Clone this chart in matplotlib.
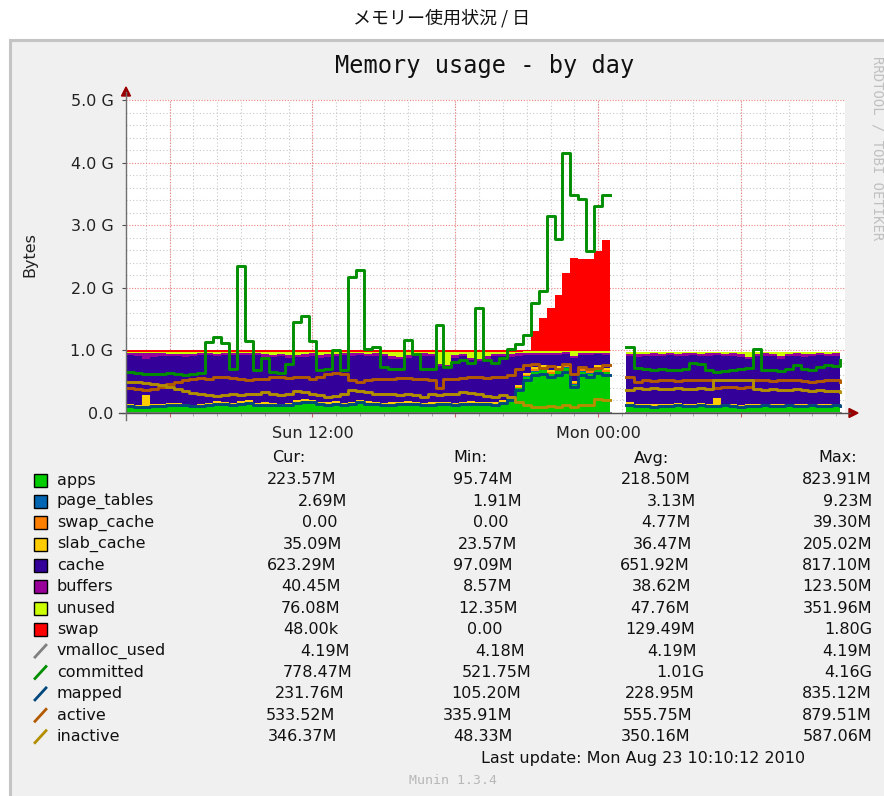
import numpy as np
import matplotlib
matplotlib.use('Agg')
import matplotlib.pyplot as plt
from matplotlib.patches import Rectangle, Polygon

nan = np.nan

# samples every 20 minutes from Sun 04:10, values in GB
apps = [0.10, 0.09, 0.09, 0.10, 0.11, 0.12, 0.12, 0.11, 0.10, 0.11,
        0.12, 0.14, 0.13, 0.12, 0.15, 0.16, 0.12, 0.13, 0.12, 0.11,
        0.12, 0.16, 0.18, 0.17, 0.14, 0.13, 0.15, 0.12, 0.14, 0.17,
        0.15, 0.13, 0.12, 0.13, 0.14, 0.15, 0.13, 0.12, 0.13, 0.14,
        0.13, 0.12, 0.14, 0.15, 0.13, 0.14, 0.13, 0.16, 0.22, 0.40,
        0.58, 0.66, 0.70, 0.62, 0.68, 0.72, 0.45, 0.66, 0.63, 0.70,
        0.65, 0.65, nan, 0.12, 0.10, 0.10, 0.09, 0.10, 0.10, 0.11,
        0.10, 0.10, 0.11, 0.10, 0.10, 0.11, 0.10, 0.09, 0.10, 0.10,
        0.11, 0.10, 0.10, 0.11, 0.10, 0.10, 0.11, 0.10, 0.10, 0.11,
        0.10]
page_tables = [0.003, 0.003, 0.003, 0.003, 0.002, 0.003, 0.003, 0.003, 0.003, 0.003,
               0.003, 0.004, 0.003, 0.003, 0.004, 0.004, 0.003, 0.003, 0.003, 0.003,
               0.003, 0.004, 0.004, 0.004, 0.003, 0.003, 0.003, 0.003, 0.003, 0.004,
               0.003, 0.003, 0.003, 0.003, 0.003, 0.003, 0.003, 0.003, 0.003, 0.003,
               0.003, 0.003, 0.003, 0.003, 0.003, 0.003, 0.003, 0.003, 0.004, 0.005,
               0.006, 0.007, 0.007, 0.006, 0.007, 0.008, 0.006, 0.007, 0.007, 0.008,
               0.007, 0.007, nan, 0.003, 0.003, 0.003, 0.003, 0.003, 0.003, 0.003,
               0.003, 0.003, 0.003, 0.003, 0.003, 0.003, 0.003, 0.003, 0.003, 0.003,
               0.003, 0.003, 0.003, 0.003, 0.003, 0.003, 0.003, 0.003, 0.003, 0.003,
               0.003]
swap_cache = [0.002, 0.002, 0.002, 0.002, 0.002, 0.002, 0.002, 0.002, 0.002, 0.002,
              0.002, 0.002, 0.002, 0.002, 0.002, 0.002, 0.002, 0.002, 0.002, 0.002,
              0.002, 0.002, 0.002, 0.002, 0.002, 0.002, 0.002, 0.002, 0.002, 0.002,
              0.002, 0.002, 0.002, 0.002, 0.002, 0.002, 0.002, 0.002, 0.002, 0.002,
              0.002, 0.002, 0.002, 0.002, 0.002, 0.002, 0.002, 0.002, 0.005, 0.015,
              0.020, 0.030, 0.030, 0.030, 0.030, 0.030, 0.030, 0.030, 0.030, 0.030,
              0.030, 0.030, nan, 0.010, 0.010, 0.010, 0.008, 0.008, 0.006, 0.006,
              0.005, 0.005, 0.004, 0.004, 0.003, 0.003, 0.002, 0.002, 0.002, 0.001,
              0.001, 0.001, 0.000, 0.000, 0.000, 0.000, 0.000, 0.000, 0.000, 0.000,
              0.000]
slab_cache = [0.035, 0.040, 0.190, 0.035, 0.035, 0.030, 0.035, 0.035, 0.030, 0.035,
              0.035, 0.040, 0.035, 0.035, 0.035, 0.035, 0.035, 0.035, 0.030, 0.035,
              0.035, 0.035, 0.035, 0.035, 0.035, 0.035, 0.035, 0.035, 0.035, 0.035,
              0.035, 0.035, 0.035, 0.035, 0.035, 0.035, 0.035, 0.035, 0.035, 0.035,
              0.035, 0.035, 0.035, 0.035, 0.035, 0.035, 0.035, 0.035, 0.035, 0.035,
              0.035, 0.030, 0.030, 0.030, 0.030, 0.030, 0.030, 0.030, 0.030, 0.030,
              0.030, 0.030, nan, 0.035, 0.035, 0.035, 0.035, 0.035, 0.035, 0.035,
              0.035, 0.035, 0.035, 0.035, 0.130, 0.035, 0.035, 0.035, 0.035, 0.035,
              0.035, 0.035, 0.035, 0.035, 0.035, 0.035, 0.035, 0.035, 0.035, 0.035,
              0.035]
cache = [0.785, 0.780, 0.580, 0.760, 0.765, 0.750, 0.750, 0.750, 0.770, 0.770,
         0.770, 0.720, 0.750, 0.770, 0.730, 0.730, 0.760, 0.725, 0.740, 0.760,
         0.725, 0.690, 0.675, 0.705, 0.705, 0.730, 0.725, 0.760, 0.735, 0.715,
         0.720, 0.745, 0.745, 0.700, 0.680, 0.695, 0.740, 0.755, 0.735, 0.570,
         0.560, 0.720, 0.735, 0.650, 0.660, 0.690, 0.735, 0.710, 0.637, 0.462,
         0.282, 0.207, 0.167, 0.242, 0.187, 0.152, 0.357, 0.207, 0.232, 0.167,
         0.217, 0.217, nan, 0.742, 0.752, 0.762, 0.779, 0.759, 0.776, 0.756,
         0.772, 0.777, 0.758, 0.773, 0.684, 0.759, 0.775, 0.770, 0.720, 0.771,
         0.766, 0.771, 0.732, 0.757, 0.777, 0.762, 0.762, 0.782, 0.767, 0.767,
         0.727]
buffers = [0.040, 0.045, 0.100, 0.060, 0.040, 0.035, 0.040, 0.035, 0.040, 0.040,
           0.035, 0.040, 0.040, 0.035, 0.040, 0.035, 0.040, 0.040, 0.035, 0.040,
           0.035, 0.040, 0.040, 0.035, 0.040, 0.040, 0.035, 0.040, 0.040, 0.035,
           0.040, 0.040, 0.035, 0.040, 0.040, 0.035, 0.040, 0.040, 0.035, 0.040,
           0.040, 0.040, 0.035, 0.040, 0.040, 0.040, 0.035, 0.040, 0.040, 0.035,
           0.035, 0.030, 0.030, 0.030, 0.030, 0.030, 0.030, 0.030, 0.030, 0.030,
           0.030, 0.030, nan, 0.040, 0.040, 0.040, 0.040, 0.040, 0.040, 0.040,
           0.040, 0.040, 0.040, 0.040, 0.040, 0.040, 0.040, 0.040, 0.040, 0.040,
           0.040, 0.040, 0.040, 0.040, 0.040, 0.040, 0.040, 0.040, 0.040, 0.040,
           0.040]
unused = [0.015, 0.020, 0.015, 0.020, 0.025, 0.040, 0.030, 0.045, 0.035, 0.020,
          0.015, 0.035, 0.020, 0.015, 0.020, 0.015, 0.020, 0.045, 0.050, 0.030,
          0.060, 0.050, 0.045, 0.030, 0.055, 0.040, 0.030, 0.020, 0.025, 0.020,
          0.030, 0.025, 0.040, 0.070, 0.080, 0.060, 0.030, 0.025, 0.040, 0.190,
          0.210, 0.060, 0.030, 0.100, 0.110, 0.070, 0.040, 0.030, 0.040, 0.030,
          0.025, 0.020, 0.020, 0.025, 0.020, 0.015, 0.080, 0.020, 0.025, 0.020,
          0.020, 0.020, nan, 0.030, 0.040, 0.030, 0.025, 0.035, 0.020, 0.030,
          0.025, 0.020, 0.030, 0.025, 0.020, 0.030, 0.025, 0.040, 0.080, 0.030,
          0.025, 0.030, 0.070, 0.035, 0.025, 0.040, 0.030, 0.020, 0.035, 0.025,
          0.075]
swap = [0.025, 0.025, 0.025, 0.025, 0.025, 0.025, 0.025, 0.025, 0.025, 0.025,
        0.025, 0.025, 0.025, 0.025, 0.025, 0.025, 0.025, 0.025, 0.025, 0.025,
        0.025, 0.025, 0.025, 0.025, 0.025, 0.025, 0.025, 0.025, 0.025, 0.025,
        0.025, 0.025, 0.025, 0.025, 0.025, 0.025, 0.025, 0.025, 0.025, 0.025,
        0.025, 0.025, 0.025, 0.025, 0.025, 0.025, 0.025, 0.025, 0.025, 0.025,
        0.025, 0.320, 0.540, 0.700, 0.900, 1.250, 1.490, 1.470, 1.470, 1.600,
        1.780, 1.780, nan, 0.000, 0.000, 0.000, 0.000, 0.000, 0.000, 0.000,
        0.000, 0.000, 0.000, 0.000, 0.000, 0.000, 0.000, 0.000, 0.000, 0.000,
        0.000, 0.000, 0.000, 0.000, 0.000, 0.000, 0.000, 0.000, 0.000, 0.000,
        0.000]
vmalloc_used = [0.004, 0.004, 0.004, 0.004, 0.004, 0.004, 0.004, 0.004, 0.004, 0.004,
                0.004, 0.004, 0.004, 0.004, 0.004, 0.004, 0.004, 0.004, 0.004, 0.004,
                0.004, 0.004, 0.004, 0.004, 0.004, 0.004, 0.004, 0.004, 0.004, 0.004,
                0.004, 0.004, 0.004, 0.004, 0.004, 0.004, 0.004, 0.004, 0.004, 0.004,
                0.004, 0.004, 0.004, 0.004, 0.004, 0.004, 0.004, 0.004, 0.004, 0.004,
                0.004, 0.004, 0.004, 0.004, 0.004, 0.004, 0.004, 0.004, 0.004, 0.004,
                0.004, nan, nan, 0.004, 0.004, 0.004, 0.004, 0.004, 0.004, 0.004,
                0.004, 0.004, 0.004, 0.004, 0.004, 0.004, 0.004, 0.004, 0.004, 0.004,
                0.004, 0.004, 0.004, 0.004, 0.004, 0.004, 0.004, 0.004, 0.004, 0.004,
                0.004]
committed = [0.65, 0.64, 0.63, 0.62, 0.63, 0.64, 0.62, 0.60, 0.62, 0.64,
             1.13, 1.21, 1.12, 0.70, 2.35, 1.15, 0.68, 0.88, 0.66, 0.64,
             0.78, 1.45, 1.55, 1.15, 0.68, 0.70, 1.00, 0.68, 2.17, 2.28,
             1.02, 1.06, 0.73, 0.70, 0.71, 1.17, 0.95, 0.70, 0.70, 1.40,
             0.73, 0.82, 0.84, 0.80, 1.68, 0.85, 0.80, 0.88, 1.02, 1.10,
             1.25, 1.75, 1.95, 3.15, 2.78, 4.15, 3.48, 3.42, 2.58, 3.30,
             3.48, nan, nan, 1.06, 0.72, 0.70, 0.69, 0.70, 0.68, 0.69,
             0.70, 0.80, 0.78, 0.68, 0.66, 0.67, 0.68, 0.70, 0.72, 1.02,
             0.69, 0.68, 0.67, 0.70, 0.76, 0.70, 0.69, 0.74, 0.76, 0.75,
             0.84]
mapped = [0.11, 0.10, 0.10, 0.11, 0.11, 0.12, 0.13, 0.12, 0.11, 0.11,
          0.12, 0.14, 0.14, 0.12, 0.15, 0.16, 0.13, 0.13, 0.12, 0.12,
          0.13, 0.16, 0.18, 0.17, 0.15, 0.13, 0.15, 0.13, 0.14, 0.17,
          0.15, 0.14, 0.13, 0.13, 0.14, 0.15, 0.14, 0.12, 0.13, 0.15,
          0.14, 0.13, 0.14, 0.15, 0.14, 0.14, 0.13, 0.16, 0.21, 0.36,
          0.52, 0.60, 0.63, 0.57, 0.61, 0.66, 0.42, 0.60, 0.57, 0.64,
          0.60, nan, nan, 0.13, 0.11, 0.11, 0.10, 0.11, 0.11, 0.12,
          0.11, 0.11, 0.12, 0.11, 0.11, 0.12, 0.11, 0.10, 0.11, 0.11,
          0.12, 0.11, 0.11, 0.12, 0.11, 0.11, 0.12, 0.11, 0.11, 0.12,
          0.11]
active = [0.40, 0.38, 0.37, 0.38, 0.42, 0.46, 0.50, 0.52, 0.55, 0.56,
          0.55, 0.57, 0.58, 0.56, 0.55, 0.53, 0.54, 0.55, 0.57, 0.58,
          0.56, 0.58, 0.57, 0.54, 0.58, 0.62, 0.64, 0.62, 0.52, 0.50,
          0.52, 0.54, 0.54, 0.55, 0.56, 0.56, 0.55, 0.54, 0.53, 0.40,
          0.54, 0.55, 0.56, 0.57, 0.58, 0.56, 0.57, 0.58, 0.60, 0.70,
          0.76, 0.78, 0.72, 0.75, 0.70, 0.78, 0.62, 0.74, 0.70, 0.72,
          0.76, nan, nan, 0.58, 0.50, 0.52, 0.51, 0.52, 0.52, 0.51,
          0.52, 0.52, 0.53, 0.52, 0.40, 0.41, 0.42, 0.40, 0.41, 0.52,
          0.52, 0.51, 0.52, 0.53, 0.52, 0.51, 0.50, 0.51, 0.52, 0.52,
          0.50]
inactive = [0.50, 0.49, 0.48, 0.46, 0.44, 0.42, 0.38, 0.35, 0.32, 0.30,
            0.28, 0.27, 0.29, 0.30, 0.28, 0.30, 0.31, 0.33, 0.30, 0.29,
            0.31, 0.35, 0.33, 0.30, 0.28, 0.26, 0.27, 0.30, 0.37, 0.35,
            0.33, 0.31, 0.30, 0.31, 0.29, 0.30, 0.28, 0.26, 0.30, 0.29,
            0.31, 0.30, 0.34, 0.32, 0.30, 0.27, 0.26, 0.28, 0.26, 0.18,
            0.12, 0.10, 0.09, 0.11, 0.10, 0.12, 0.10, 0.13, 0.12, 0.22,
            0.20, nan, nan, 0.36, 0.40, 0.39, 0.40, 0.38, 0.39, 0.40,
            0.38, 0.39, 0.40, 0.38, 0.52, 0.53, 0.52, 0.53, 0.52, 0.38,
            0.37, 0.38, 0.36, 0.37, 0.38, 0.36, 0.35, 0.36, 0.35, 0.35,
            0.34]

names = ['apps', 'page_tables', 'swap_cache', 'slab_cache', 'cache', 'buffers',
         'unused', 'swap', 'vmalloc_used', 'committed', 'mapped', 'active', 'inactive']
cur_txt = ['223.57M', '2.69M', '0.00', '35.09M', '623.29M', '40.45M', '76.08M',
           '48.00k', '4.19M', '778.47M', '231.76M', '533.52M', '346.37M']
min_txt = ['95.74M', '1.91M', '0.00', '23.57M', '97.09M', '8.57M', '12.35M',
           '0.00', '4.18M', '521.75M', '105.20M', '335.91M', '48.33M']
avg_txt = ['218.50M', '3.13M', '4.77M', '36.47M', '651.92M', '38.62M', '47.76M',
           '129.49M', '4.19M', '1.01G', '228.95M', '555.75M', '350.16M']
max_txt = ['823.91M', '9.23M', '39.30M', '205.02M', '817.10M', '123.50M', '351.96M',
           '1.80G', '4.19M', '4.16G', '835.12M', '879.51M', '587.06M']

area_series = [apps, page_tables, swap_cache, slab_cache, cache, buffers, unused, swap]
line_series = [vmalloc_used, committed, mapped, active, inactive]
colors = ['#00CC00', '#0066B3', '#FF8000', '#FFCC00', '#330099', '#990099', '#CCFF00',
          '#FF0000', '#808080', '#008F00', '#00487D', '#B35A00', '#B38F00']

# legend column x positions (pixels)
cur_x = [267, 298, 302, 283, 267, 281, 281, 283, 300, 283, 275, 266, 268]
min_x = [453, 472, 473, 458, 453, 463, 458, 467, 475, 462, 451, 443, 453]
avg_x = [621, 647, 641, 633, 620, 632, 630, 625, 647, 656, 625, 623, 621]
max_right = 872

plt.rcParams['font.family'] = 'DejaVu Sans'
W, H = 884, 796
fig = plt.figure(figsize=(W / 100, H / 100), dpi=100)
fig.patch.set_facecolor('white')

bg = fig.add_axes([0, 0, 1, 1], zorder=0)
bg.set_xlim(0, W)
bg.set_ylim(H, 0)
bg.axis('off')
bg.add_patch(Rectangle((9.5, 40), W, H, facecolor='#F0F0F0', edgecolor='#C4C4C4', lw=2.2))

ax = fig.add_axes([126 / W, 1 - 413 / H, (845 - 126) / W, 313 / H], zorder=1)
ax.set_facecolor('white')
for s in ax.spines.values():
    s.set_visible(False)

t = np.arange(len(apps)) / 3.0
t0 = 4 + 10 / 60.0  # Sun 04:10
hours = np.arange(5, 35) - t0
majors = hours[(np.arange(5, 35) % 6) == 0]

ax.vlines(hours, 0, 5.0, colors='#C8C8C8', linestyles=(0, (1, 2)), lw=0.8, zorder=0)
ax.vlines(majors, 0, 5.0, colors='#F08080', linestyles=(0, (1, 1.5)), lw=0.8, zorder=0.5)
minor_y = [v / 5 for v in range(1, 26) if v % 5 != 0]
ax.hlines(minor_y, 0, 30.2, colors='#C8C8C8', linestyles=(0, (1, 2)), lw=0.8, zorder=0)
ax.hlines([1, 2, 3, 4, 5], 0, 30.2, colors='#F08080', linestyles=(0, (1, 1.5)), lw=0.8,
          zorder=0.5, clip_on=False)

base = np.zeros(len(t))
for vals, c in zip(area_series, colors[:8]):
    top = base + np.array(vals, dtype=float)
    ax.fill_between(t, base, top, step='post', color=c, lw=0, antialiased=False, zorder=2)
    base = top

for vals, c in zip(line_series, colors[8:]):
    ax.plot(t, vals, drawstyle='steps-post', color=c, lw=2.1, zorder=3)

ax.set_xlim(0, 30.2)
ax.set_ylim(0, 5.0)
ax.set_yticks([0, 1, 2, 3, 4, 5])
ax.set_yticklabels(['0.0', '1.0 G', '2.0 G', '3.0 G', '4.0 G', '5.0 G'])
ax.set_xticks(majors)
ax.set_xticklabels(['', 'Sun 12:00', '', 'Mon 00:00', ''])
ax.set_xticks(hours, minor=True)
ax.tick_params(axis='y', length=3, color='#505050', labelsize=11.5, pad=6, labelcolor='#222222')
ax.tick_params(axis='x', which='major', length=3, color='#D06060', labelsize=11.5, pad=6,
               labelcolor='#222222')
ax.tick_params(axis='x', which='minor', length=2, color='#A0A0A0')

fg = fig.add_axes([0, 0, 1, 1], zorder=2)
fg.set_xlim(0, W)
fg.set_ylim(H, 0)
fg.axis('off')
fg.patch.set_alpha(0)

fg.plot([119, 850], [413, 413], color='#505050', lw=1)
fg.plot([126, 126], [420, 92], color='#707070', lw=1)
fg.add_patch(Polygon([(121.5, 96), (130.5, 96), (126, 87)], closed=True, color='#990000'))
fg.add_patch(Polygon([(849, 408.5), (849, 417.5), (858, 413)], closed=True, color='#990000'))

fg.text(442, 18, 'メモリー使用状況 / 日', ha='center', va='center', fontsize=13,
        family=['Noto Sans CJK JP', 'DejaVu Sans'], color='#111111')
fg.text(485, 66, 'Memory usage - by day', ha='center', va='center', fontsize=17,
        family='DejaVu Sans Mono', color='#111111')
fg.text(877, 148, 'RRDTOOL / TOBI OETIKER', rotation=270, ha='center', va='center',
        fontsize=10, family='DejaVu Sans Mono', color='#C0C0C0')
fg.text(30, 255, 'Bytes', rotation=90, ha='center', va='center', fontsize=11.5, color='#222222')

fs = 11.5
fg.text(272, 458, 'Cur:', va='center', fontsize=fs, color='#111111')
fg.text(453, 458, 'Min:', va='center', fontsize=fs, color='#111111')
fg.text(634, 458, 'Avg:', va='center', fontsize=fs, color='#111111')
fg.text(857, 458, 'Max:', ha='right', va='center', fontsize=fs, color='#111111')

for i, name in enumerate(names):
    y = 480 + 21.39 * i
    c = colors[i]
    if i < 8:
        fg.add_patch(Rectangle((34, y - 6.5), 13, 13, facecolor=c, edgecolor='black', lw=1))
    else:
        fg.plot([35, 46], [y + 6, y - 6], color=c, lw=2)
    fg.text(57, y, name, va='center', fontsize=fs, color='#111111')
    fg.text(cur_x[i], y, cur_txt[i], va='center', fontsize=fs, color='#111111')
    fg.text(min_x[i], y, min_txt[i], va='center', fontsize=fs, color='#111111')
    fg.text(avg_x[i], y, avg_txt[i], va='center', fontsize=fs, color='#111111')
    fg.text(max_right, y, max_txt[i], ha='right', va='center', fontsize=fs, color='#111111')

fg.text(643, 758, 'Last update: Mon Aug 23 10:10:12 2010', ha='center', va='center',
        fontsize=fs, color='#111111')
fg.text(453, 781, 'Munin 1.3.4', ha='center', va='center', fontsize=9.5,
        family='DejaVu Sans Mono', color='#B8B8B8')

plt.savefig('out.png', dpi=100)
